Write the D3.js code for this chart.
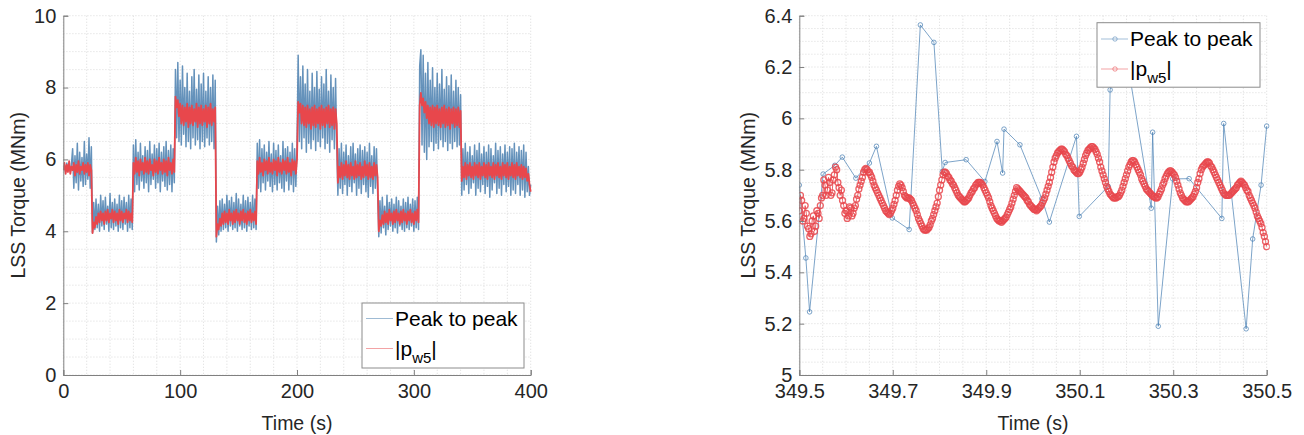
<!DOCTYPE html>
<html>
<head>
<meta charset="utf-8">
<script src="https://cdn.jsdelivr.net/npm/d3@7"></script>
<style>
    body { margin: 0; background: #fff; }
    svg { display: block; font-family: "Liberation Sans", Arial, Helvetica, sans-serif; }
</style>
</head>
<body>
<svg id="chart" width="1304" height="435"></svg>
<script>
"use strict";

// ---------- data ----------

// left panel: one sample per second, 0 .. 400 s
var leftStart = 0, leftStep = 1;

// peak to peak torque (MNm), segment by segment
var p2pLeft = [].concat(
    [5.7,5.85,5.65,5.9,5.7,5.8,5.66,5.88,6.3,5.2,6.1,5.35,6.45,5.15,6.2,5.4,6.05,5.25,6.5,5.3,6.15,5.45,6.6,5.2,6.35],
    [3.95,4.8,4.05,4.9,4.1,4.75,4.0,5.0,4.15,4.85,4.05,4.95,4.2,4.7,4.0,5.05,4.1,4.8,4.05,4.9,4.15,4.75,4.0,5.0,4.1,4.85,4.05,4.95,4.2,4.8,4.0,5.0,4.1,4.9,4.05],
    [6.4,5.1,6.55,5.3,6.2,5.15,6.45,5.4,6.1,5.2,6.35,5.35,6.25,5.1,6.5,5.3,6.15,5.45,6.4,5.2,6.3,5.35,6.45,5.1,6.2,5.4,6.35,5.25,6.5,5.15,6.25,5.3,6.4,5.1,6.3,5.35],
    [8.5,6.6,8.7,6.5,8.2,6.4,8.6,6.7,8.0,6.35,8.4,6.5,7.9,6.3,8.3,6.6,8.5,6.4,7.95,6.55,8.35,6.3,8.1,6.5,8.4,6.35,7.9,6.6,8.3,6.4,8.0,6.5,8.35,6.3,8.2],
    [3.7,4.7,3.9,4.85,4.0,4.9,4.05,4.75,4.1,5.0,4.0,4.85,4.15,4.95,4.05,4.8,4.1,5.05,4.0,4.9,4.15,4.75,4.05,5.0,4.1,4.85,4.0,4.95,4.15,4.8,4.05,5.0,4.1,4.9,4.05],
    [6.45,5.2,6.55,5.1,6.3,5.35,6.4,5.15,6.2,5.4,6.5,5.25,6.15,5.1,6.45,5.3,6.25,5.15,6.4,5.35,6.1,5.2,6.5,5.1,6.3,5.4,6.35,5.15,6.2,5.3,6.45,5.1,6.3,5.25,6.4],
    [8.9,6.5,8.3,6.3,8.6,6.6,8.1,6.2,8.5,6.45,7.9,6.3,8.4,6.55,8.0,6.25,8.45,6.5,7.95,6.35,8.3,6.6,8.1,6.3,8.5,6.45,7.9,6.2,8.35,6.55,8.0,6.3,8.25,6.4],
    [5.0,6.3,5.2,6.45,5.05,6.2,5.3,6.4,5.0,6.1,5.25,6.35,5.1,6.45,5.35,6.15,5.0,6.3,5.2,6.4,5.05,6.25,5.3,6.35,5.1,6.2,4.95,6.45,5.25,6.1,5.05,6.35,5.2,6.3,5.1],
    [3.85,4.85,3.95,4.95,4.1,4.7,3.9,5.0,4.05,4.8,4.15,4.9,4.0,4.75,4.1,4.95,3.95,4.85,4.15,4.7,4.05,4.9,4.0,4.8,4.1,4.95,4.05,4.75,4.15,4.9,4.0,4.85,4.1,4.95,4.05],
    [8.6,9.05,6.4,8.9,6.2,8.4,6.0,8.7,6.35,8.2,6.5,8.55,6.25,8.0,6.45,8.4,6.3,8.1,6.55,8.5,6.35,7.95,6.5,8.3,6.25,8.05,6.45,8.35,6.3,7.9,6.5,8.2,6.35,8.0,6.4,7.8],
    [5.0,6.3,5.15,6.45,5.3,6.2,5.05,6.35,5.2,6.1,5.35,6.4,5.0,6.25,5.2,6.45,5.1,6.15,5.3,6.35,5.05,6.2,5.25,6.4,4.95,6.3,5.15,6.1,5.35,6.45,
     5.05,6.25,5.2,6.35,5.0,6.15,5.3,6.4,5.1,6.2,5.25,6.35,5.0,6.3,5.15,6.45,5.05,6.2,5.3,6.35,5.0,6.25,5.15,6.4,4.95,6.2,5.1,5.8,5.0,5.3]
);

// |p_w5| (MNm)
var pw5Left = [].concat(
    [5.7,5.9,5.6,5.85,5.65,5.95,5.6,5.8,5.7,5.9,5.55,5.85,5.65,5.95,5.6,5.8,5.7,5.9,5.6,5.85,5.65,5.9,5.55,5.85,5.7],
    [3.95,4.25,4.1,4.4,4.2,4.5,4.25,4.55,4.3,4.5,4.2,4.55,4.3,4.6,4.25,4.5,4.35,4.6,4.25,4.55,4.3,4.5,4.2,4.6,4.3,4.55,4.25,4.5,4.35,4.6,4.25,4.55,4.3,4.5,4.25],
    [5.9,5.6,6.05,5.65,5.95,5.55,6.0,5.7,5.9,5.6,6.05,5.65,5.95,5.6,6.0,5.7,5.85,5.55,6.0,5.65,5.95,5.6,6.05,5.7,5.9,5.6,6.0,5.65,5.95,5.55,6.05,5.7,5.9,5.6,6.0,5.65],
    [7.75,7.45,7.65,7.2,7.55,7.0,7.5,6.95,7.45,7.05,7.55,6.9,7.45,7.0,7.5,6.95,7.4,7.05,7.55,6.9,7.45,7.0,7.5,6.95,7.4,7.05,7.5,6.9,7.45,7.0,7.55,6.95,7.4,7.05,7.45],
    [3.85,4.2,4.05,4.35,4.15,4.5,4.2,4.55,4.25,4.5,4.2,4.6,4.3,4.5,4.2,4.55,4.25,4.6,4.3,4.5,4.2,4.55,4.3,4.6,4.25,4.5,4.2,4.55,4.3,4.6,4.25,4.5,4.3,4.55,4.2],
    [5.95,5.6,6.05,5.65,5.9,5.55,6.0,5.7,5.95,5.6,6.05,5.65,5.9,5.6,6.0,5.7,5.95,5.55,6.05,5.65,5.9,5.6,6.0,5.7,5.95,5.6,6.05,5.65,5.9,5.55,6.0,5.7,5.95,5.6,6.0],
    [7.6,7.3,7.55,7.0,7.5,6.95,7.45,6.9,7.5,7.0,7.4,6.85,7.45,6.95,7.5,6.9,7.4,7.0,7.45,6.85,7.5,6.95,7.4,6.9,7.45,7.0,7.5,6.9,7.4,6.95,7.45,6.85,7.4,7.0],
    [5.35,5.8,5.5,5.9,5.45,5.85,5.55,5.95,5.5,5.85,5.45,5.9,5.55,5.8,5.45,5.95,5.5,5.85,5.55,5.9,5.45,5.8,5.5,5.95,5.55,5.85,5.45,5.9,5.5,5.8,5.45,5.9,5.55,5.85,5.5],
    [4.0,4.3,4.15,4.45,4.2,4.55,4.25,4.5,4.2,4.6,4.3,4.5,4.2,4.55,4.25,4.6,4.3,4.5,4.2,4.55,4.25,4.6,4.3,4.5,4.2,4.55,4.3,4.6,4.25,4.5,4.2,4.55,4.3,4.6,4.25],
    [7.5,7.85,7.5,7.7,7.3,7.6,7.15,7.5,7.0,7.45,6.95,7.5,6.9,7.45,7.0,7.5,6.95,7.4,6.9,7.45,7.0,7.5,6.9,7.4,6.95,7.45,6.85,7.4,7.0,7.45,6.9,7.4,6.95,7.45,6.9,7.35],
    [5.4,5.8,5.5,5.9,5.45,5.85,5.55,5.9,5.5,5.8,5.45,5.9,5.55,5.85,5.5,5.9,5.45,5.8,5.55,5.9,5.5,5.85,5.45,5.9,5.55,5.8,5.5,5.9,5.45,5.85,
     5.55,5.9,5.5,5.8,5.45,5.9,5.55,5.85,5.5,5.9,5.45,5.8,5.55,5.9,5.5,5.85,5.45,5.9,5.55,5.8,5.5,5.85,5.45,5.8,5.5,5.75,5.4,5.6,5.3,5.1]
);

// right panel, zoom on 349.5 .. 350.5 s
var p2pRightTime = [349.5,349.514,349.522,349.551,349.576,349.592,349.621,349.65,349.665,349.699,349.735,349.759,349.788,
    349.806,349.812,349.857,349.897,349.923,349.935,349.938,349.972,350.019,350.035,350.093,350.099,350.161,350.165,
    350.195,350.253,350.256,350.268,350.299,350.334,350.404,350.408,350.456,350.47,350.488,350.5];
var p2pRight = [5.74,5.456,5.246,5.783,5.817,5.849,5.767,5.826,5.891,5.612,5.567,6.364,6.296,
    5.793,5.828,5.839,5.754,5.91,5.787,5.958,5.897,5.687,5.596,5.93,5.618,5.735,6.111,
    6.3,5.65,5.946,5.19,5.764,5.765,5.61,5.98,5.18,5.53,5.74,5.97];

// |p_w5| sampled every 2.5 ms
var rightStart = 349.5, rightStep = 0.0025;
var pw5Right = [
    5.64,5.70,5.68,5.60,5.61,5.66,5.63,5.58,5.57,5.54,5.55,5.60,5.62,5.56,5.58,5.64,5.63,5.61,5.66,5.69,
    5.70,5.76,5.74,5.70,5.72,5.77,5.75,5.70,5.71,5.76,5.78,5.81,5.80,5.75,5.73,5.70,5.72,5.68,5.66,5.63,
    5.64,5.61,5.62,5.655,5.65,5.62,5.63,5.65,5.66,5.685,5.70,5.725,5.74,5.755,5.77,5.79,5.80,5.805,5.80,5.79,
    5.79,5.78,5.77,5.755,5.74,5.73,5.72,5.71,5.70,5.69,5.68,5.67,5.66,5.65,5.64,5.635,5.63,5.625,5.63,5.64,
    5.65,5.665,5.68,5.70,5.72,5.735,5.745,5.74,5.73,5.715,5.70,5.695,5.69,5.69,5.69,5.685,5.68,5.67,5.66,5.65,
    5.64,5.625,5.61,5.60,5.59,5.58,5.57,5.565,5.565,5.565,5.57,5.575,5.585,5.60,5.61,5.625,5.64,5.655,5.67,5.695,
    5.72,5.74,5.76,5.78,5.79,5.79,5.785,5.775,5.77,5.76,5.755,5.745,5.74,5.73,5.72,5.71,5.70,5.695,5.69,5.685,
    5.68,5.675,5.675,5.68,5.685,5.69,5.70,5.71,5.715,5.725,5.73,5.74,5.745,5.75,5.75,5.75,5.745,5.74,5.73,5.72,
    5.71,5.70,5.69,5.675,5.66,5.65,5.64,5.63,5.62,5.61,5.605,5.60,5.60,5.595,5.60,5.605,5.61,5.615,5.625,5.635,
    5.645,5.655,5.67,5.685,5.70,5.715,5.73,5.725,5.72,5.715,5.71,5.705,5.70,5.695,5.69,5.68,5.675,5.665,5.66,5.655,
    5.65,5.645,5.645,5.64,5.645,5.65,5.655,5.66,5.67,5.68,5.69,5.705,5.72,5.735,5.75,5.77,5.79,5.81,5.83,5.845,
    5.855,5.865,5.87,5.875,5.88,5.88,5.875,5.87,5.86,5.855,5.845,5.835,5.825,5.815,5.81,5.80,5.795,5.79,5.785,5.785,
    5.79,5.80,5.81,5.825,5.84,5.855,5.865,5.875,5.88,5.885,5.89,5.89,5.885,5.88,5.87,5.86,5.845,5.83,5.81,5.795,
    5.78,5.765,5.75,5.735,5.725,5.715,5.705,5.70,5.695,5.69,5.69,5.69,5.695,5.695,5.70,5.71,5.72,5.735,5.75,5.765,
    5.78,5.795,5.81,5.82,5.83,5.835,5.835,5.83,5.82,5.81,5.80,5.79,5.78,5.765,5.755,5.745,5.735,5.725,5.72,5.715,
    5.71,5.705,5.70,5.695,5.695,5.69,5.69,5.695,5.705,5.715,5.725,5.74,5.75,5.765,5.775,5.785,5.79,5.795,5.795,5.79,
    5.785,5.78,5.77,5.755,5.74,5.725,5.71,5.70,5.69,5.685,5.68,5.675,5.675,5.675,5.68,5.685,5.69,5.695,5.705,5.715,
    5.73,5.75,5.765,5.785,5.80,5.81,5.815,5.82,5.825,5.83,5.83,5.825,5.815,5.81,5.80,5.79,5.78,5.77,5.76,5.75,
    5.74,5.73,5.72,5.71,5.705,5.70,5.70,5.70,5.70,5.705,5.71,5.715,5.72,5.725,5.73,5.74,5.745,5.75,5.755,5.75,
    5.745,5.74,5.73,5.72,5.715,5.70,5.69,5.68,5.67,5.66,5.65,5.635,5.62,5.61,5.60,5.59,5.575,5.555,5.54,5.52,
    5.50
];

// axis ticks
var leftXTicks = [0, 100, 200, 300, 400];
var leftYTicks = [0, 2, 4, 6, 8, 10];
var rightXTicks = [349.5, 349.7, 349.9, 350.1, 350.3, 350.5];
var rightYTicks = [5, 5.2, 5.4, 5.6, 5.8, 6, 6.2, 6.4];

var blue = "#3f77aa", red = "#e8474c";

// ---------- drawing ----------

var svg = d3.select("#chart");

function drawPanel(opt) {
    var x = d3.scaleLinear().domain(opt.xDomain).range([opt.left, opt.right]);
    var y = d3.scaleLinear().domain(opt.yDomain).range([opt.bottom, opt.top]);
    var g = svg.append("g");

    // minor + major grid, dotted
    var grid = g.append("g").attr("stroke", "#d4d4d4").attr("stroke-width", 0.7)
        .attr("stroke-dasharray", "1.2,1.8");
    grid.selectAll(".gx").data(x.ticks(opt.xMinor)).enter().append("line")
        .attr("x1", function(d){ return x(d); }).attr("x2", function(d){ return x(d); })
        .attr("y1", opt.top).attr("y2", opt.bottom);
    grid.selectAll(".gy").data(y.ticks(opt.yMinor)).enter().append("line")
        .attr("y1", function(d){ return y(d); }).attr("y2", function(d){ return y(d); })
        .attr("x1", opt.left).attr("x2", opt.right);

    var clipId = "clip" + Math.round(opt.left);
    svg.append("clipPath").attr("id", clipId).append("rect")
        .attr("x", opt.left).attr("y", opt.top - 3)
        .attr("width", opt.right - opt.left + 3).attr("height", opt.bottom - opt.top + 3);

    var data = g.append("g").attr("clip-path", "url(#" + clipId + ")");
    opt.series.forEach(function(s) {
        var pts = s.values.map(function(v, i){ return [s.time(i), v]; });
        var line = d3.line().x(function(d){ return x(d[0]); }).y(function(d){ return y(d[1]); });
        data.append("path").datum(pts)
            .attr("d", line).attr("fill", "none")
            .attr("stroke", s.color).attr("stroke-width", s.width).attr("stroke-opacity", s.opacity)
            .attr("stroke-linejoin", "round");
        if (s.marker) {
            data.append("g").selectAll("circle").data(pts).enter().append("circle")
                .attr("cx", function(d){ return x(d[0]); }).attr("cy", function(d){ return y(d[1]); })
                .attr("r", s.marker).attr("fill", "none")
                .attr("stroke", s.color).attr("stroke-width", s.markerWidth).attr("stroke-opacity", s.markerOpacity);
        }
    });

    // axes, ticks pointing inside
    var xAxis = d3.axisBottom(x).tickValues(opt.xTicks).tickSize(-5).tickPadding(8)
        .tickFormat(function(d){ return String(d); });
    var yAxis = d3.axisLeft(y).tickValues(opt.yTicks).tickSize(-5).tickPadding(7)
        .tickFormat(function(d){ return String(+d.toFixed(1)); });

    var gx = g.append("g").attr("transform", "translate(0," + opt.bottom + ")").call(xAxis);
    var gy = g.append("g").attr("transform", "translate(" + opt.left + ",0)").call(yAxis);
    [gx, gy].forEach(function(a) {
        a.select(".domain").attr("stroke", "#808080").attr("stroke-width", 1);
        a.selectAll(".tick line").attr("stroke", "#808080");
        a.selectAll(".tick text").attr("fill", "#262626").style("font-size", "20px")
            .style("font-family", "'Liberation Sans', Arial, sans-serif");
    });
    gx.selectAll(".tick text").attr("dy", "0.74em");

    g.append("text").attr("x", (opt.left + opt.right) / 2).attr("y", 430)
        .attr("text-anchor", "middle").attr("fill", "#262626").style("font-size", "19.5px")
        .text("Time (s)");
    g.append("text")
        .attr("transform", "translate(" + opt.ylabelX + "," + (opt.top + opt.bottom) / 2 + ") rotate(-90)")
        .attr("text-anchor", "middle").attr("fill", "#262626").style("font-size", "19.5px")
        .text("LSS Torque (MNm)");

    // legend
    var L = opt.legend;
    var lg = g.append("g");
    lg.append("rect").attr("x", L.x).attr("y", L.y).attr("width", L.w).attr("height", L.h)
        .attr("fill", "#fff").attr("stroke", "#8c8c8c").attr("stroke-width", 1);
    opt.series.forEach(function(s, i) {
        var cy = L.y + L.row0 + i * 30;
        lg.append("line").attr("x1", L.x + 4).attr("x2", L.x + 31).attr("y1", cy).attr("y2", cy)
            .attr("stroke", s.color).attr("stroke-width", 1).attr("stroke-opacity", 0.5);
        if (s.marker) {
            lg.append("circle").attr("cx", L.x + 18).attr("cy", cy).attr("r", 2.2)
                .attr("fill", "none").attr("stroke", s.color).attr("stroke-opacity", 0.7).attr("stroke-width", 0.8);
        }
        var t = lg.append("text").attr("x", L.x + 33).attr("y", cy + 7.3)
            .attr("fill", "#000").style("font-size", "21px");
        if (i === 0) {
            t.text("Peak to peak");
        } else {
            t.append("tspan").text("|p");
            t.append("tspan").attr("dy", 7).style("font-size", "15px").text("w5");
            t.append("tspan").attr("dy", -7).text("|");
        }
    });
}

drawPanel({
    left: 63.3, right: 530.7, top: 15.7, bottom: 375,
    xDomain: [0, 400], yDomain: [0, 10],
    xTicks: leftXTicks, yTicks: leftYTicks, xMinor: 20, yMinor: 20,
    ylabelX: 25,
    legend: { x: 362, y: 303, w: 162, h: 65, row0: 15.5 },
    series: [
        { values: p2pLeft, time: function(i){ return leftStart + i * leftStep; },
          color: blue, width: 1.5, opacity: 0.8 },
        { values: pw5Left, time: function(i){ return leftStart + i * leftStep; },
          color: red, width: 1.8, opacity: 1 }
    ]
});

drawPanel({
    left: 799.3, right: 1266.7, top: 15.7, bottom: 375,
    xDomain: [349.5, 350.5], yDomain: [5, 6.4],
    xTicks: rightXTicks, yTicks: rightYTicks, xMinor: 20, yMinor: 28,
    ylabelX: 755,
    legend: { x: 1097, y: 22.7, w: 163, h: 64.5, row0: 16.3 },
    series: [
        { values: p2pRight, time: function(i){ return p2pRightTime[i]; },
          color: "#4a80b4", width: 0.8, opacity: 0.9, marker: 2.3, markerWidth: 0.8, markerOpacity: 0.9 },
        { values: pw5Right, time: function(i){ return rightStart + i * rightStep; },
          color: red, width: 1, opacity: 0.85, marker: 3, markerWidth: 1.3, markerOpacity: 0.85 }
    ]
});
</script>
</body>
</html>
